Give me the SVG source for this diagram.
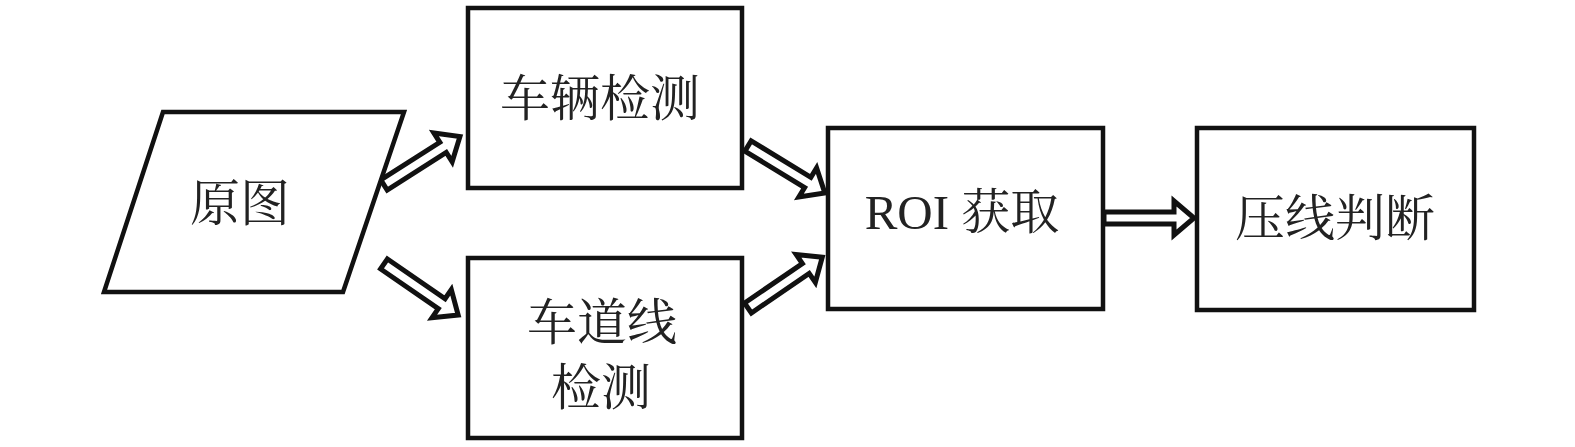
<svg xmlns="http://www.w3.org/2000/svg" xmlns:xlink="http://www.w3.org/1999/xlink" width="1575" height="447" viewBox="0 0 1575 447">
<style>
.box{fill:#fff;stroke:#111;stroke-width:4.5;}
.arrow{fill:#fff;stroke:#111;stroke-width:5;stroke-linejoin:miter;}
.lbl{font-family:"Liberation Serif","Noto Serif CJK SC","Noto Sans CJK SC",serif;font-size:50px;fill:#222;text-anchor:middle;}
</style>
<defs>
<path id="arr" d="M0,-6 L70,-6 L70,-17 L90,0 L70,17 L70,6 L0,6 Z"/>
</defs>
<rect width="1575" height="447" fill="#fff"/>
<g id="connectors">
<use xlink:href="#arr" class="arrow" transform="translate(384,185) rotate(-32.5)"/>
<use xlink:href="#arr" class="arrow" transform="translate(384,264) rotate(34.5)"/>
<use xlink:href="#arr" class="arrow" transform="translate(748,146) rotate(31.4)"/>
<use xlink:href="#arr" class="arrow" transform="translate(748,308) rotate(-34.4)"/>
<use xlink:href="#arr" class="arrow" transform="translate(1104,218)"/>
</g>
<g id="node-yuantu">
<polygon class="box" points="163,112 404,112 343,292 104,292"/>
<text class="lbl" x="240" y="221">原图</text>
</g>
<g id="node-cheliang">
<rect class="box" x="468" y="8" width="274" height="180"/>
<text class="lbl" x="600" y="116">车辆检测</text>
</g>
<g id="node-chedaoxian">
<rect class="box" x="468" y="258" width="274" height="180"/>
<text class="lbl" x="602" y="340">车道线</text>
<text class="lbl" x="601" y="405">检测</text>
</g>
<g id="node-roi">
<rect class="box" x="828" y="128" width="275" height="181"/>
<text class="lbl" x="962" y="229" style="font-size:49px">ROI 获取</text>
</g>
<g id="node-yaxian">
<rect class="box" x="1197" y="128" width="277" height="182"/>
<text class="lbl" x="1335" y="236">压线判断</text>
</g>
</svg>
